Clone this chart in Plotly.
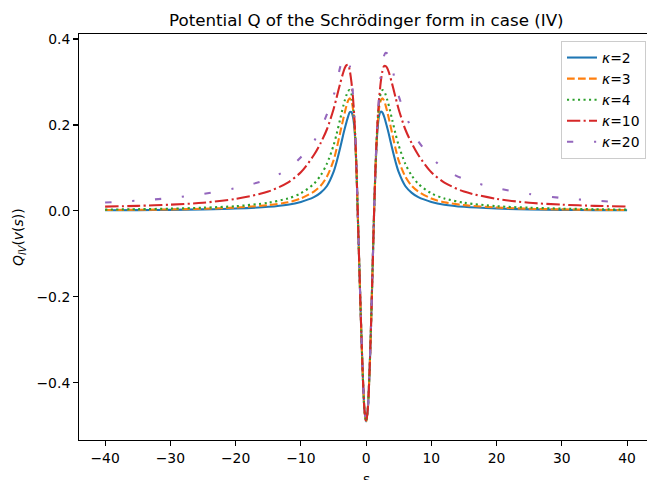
import plotly.graph_objects as go

# ---- data ----
S = [-40, -35, -30, -25, -20, -15, -12, -10, -8, -7, -6, -5, -4.5, -4, -3.5, -3.25, -3, -2.75,
     -2.5, -2.25, -2, -1.75, -1.5, -1.25, -1, -0.75, -0.5, -0.25, 0,
     0.25, 0.5, 0.75, 1, 1.25, 1.5, 1.75, 2, 2.25, 2.5, 2.75, 3, 3.25, 3.5,
     4, 4.5, 5, 6, 7, 8, 10, 12, 15, 20, 25, 30, 35, 40]

Q_K2 = [0.0014, 0.0018, 0.0025, 0.0036, 0.0056, 0.0095, 0.0145, 0.021, 0.032, 0.042, 0.058, 0.090, 0.115, 0.145, 0.178, 0.193, 0.207, 0.220,
        0.230, 0.230, 0.218, 0.185, 0.105, -0.02, -0.15, -0.275, -0.385, -0.463, -0.490,
        -0.463, -0.385, -0.27, -0.13, 0.01, 0.12, 0.19, 0.222, 0.231, 0.229, 0.220, 0.207, 0.193, 0.178,
        0.145, 0.115, 0.090, 0.058, 0.042, 0.032, 0.021, 0.0145, 0.0095, 0.0056, 0.0036, 0.0025, 0.0018, 0.0014]

Q_K3 = [0.002, 0.0026, 0.0035, 0.005, 0.0078, 0.0135, 0.020, 0.029, 0.045, 0.058, 0.080, 0.117, 0.146, 0.180, 0.214, 0.230, 0.245, 0.257,
        0.262, 0.256, 0.236, 0.192, 0.107, -0.02, -0.15, -0.275, -0.385, -0.463, -0.490,
        -0.463, -0.385, -0.27, -0.13, 0.01, 0.122, 0.198, 0.240, 0.257, 0.262, 0.257, 0.245, 0.230, 0.214,
        0.180, 0.146, 0.117, 0.080, 0.058, 0.045, 0.029, 0.020, 0.0135, 0.0078, 0.005, 0.0035, 0.0026, 0.002]

Q_K4 = [0.003, 0.004, 0.0053, 0.0075, 0.011, 0.019, 0.029, 0.041, 0.063, 0.082, 0.110, 0.152, 0.180, 0.212, 0.244, 0.258, 0.270, 0.279,
        0.281, 0.272, 0.246, 0.196, 0.108, -0.02, -0.15, -0.275, -0.385, -0.463, -0.490,
        -0.463, -0.385, -0.27, -0.13, 0.01, 0.124, 0.203, 0.250, 0.274, 0.281, 0.279, 0.270, 0.258, 0.244,
        0.212, 0.180, 0.152, 0.110, 0.082, 0.063, 0.041, 0.029, 0.019, 0.011, 0.0075, 0.0053, 0.004, 0.003]

Q_K10 = [0.010, 0.0118, 0.0145, 0.019, 0.028, 0.045, 0.066, 0.090, 0.130, 0.157, 0.190, 0.236, 0.265, 0.295, 0.322, 0.333, 0.339, 0.340,
         0.326, 0.300, 0.262, 0.203, 0.110, -0.02, -0.15, -0.275, -0.385, -0.463, -0.490,
         -0.463, -0.385, -0.27, -0.13, 0.01, 0.126, 0.208, 0.262, 0.300, 0.325, 0.337, 0.337, 0.332, 0.322,
         0.295, 0.265, 0.236, 0.190, 0.157, 0.130, 0.090, 0.066, 0.045, 0.028, 0.019, 0.0145, 0.0118, 0.010]

Q_K20 = [0.0195, 0.024, 0.030, 0.0395, 0.053, 0.074, 0.097, 0.125, 0.162, 0.190, 0.225, 0.267, 0.297, 0.333, 0.356, 0.358, 0.356, 0.352,
         0.338, 0.312, 0.268, 0.205, 0.111, -0.02, -0.15, -0.275, -0.385, -0.463, -0.490,
         -0.463, -0.385, -0.27, -0.13, 0.01, 0.127, 0.210, 0.270, 0.315, 0.345, 0.361, 0.368, 0.366, 0.359,
         0.333, 0.297, 0.267, 0.225, 0.190, 0.162, 0.125, 0.097, 0.074, 0.053, 0.0395, 0.030, 0.024, 0.0195]

SERIES_NAMES = ["<i>κ</i>=2", "<i>κ</i>=3", "<i>κ</i>=4", "<i>κ</i>=10", "<i>κ</i>=20"]
SERIES_VALUES = [Q_K2, Q_K3, Q_K4, Q_K10, Q_K20]

X_TICKS = [-40, -30, -20, -10, 0, 10, 20, 30, 40]
X_TICK_TEXT = ["−40", "−30", "−20", "−10", "0", "10", "20", "30", "40"]
Y_TICKS = [-0.4, -0.2, 0.0, 0.2, 0.4]
Y_TICK_TEXT = ["−0.4", "−0.2", "0.0", "0.2", "0.4"]

TITLE = "Potential Q of the Schrödinger form in case (IV)"
XLABEL = "s"
YLABEL = "<i>Q</i><sub><i>IV</i></sub>(<i>v</i>(<i>s</i>))"

# ---- styles ----
COLORS = ["#1f77b4", "#ff7f0e", "#2ca02c", "#d62728", "#9467bd"]
DASHES = ["solid", "7.7px,3.3px", "2.1px,3.4px", "13.3px,3.3px,2.1px,3.3px", "6.25px,20.8px,2.1px,20.8px"]
FONT = "DejaVu Sans"

fig = go.Figure()
for name, vals, col, dash in zip(SERIES_NAMES, SERIES_VALUES, COLORS, DASHES):
    fig.add_trace(go.Scatter(
        x=S, y=vals, mode="lines", name=name,
        line=dict(color=col, width=2.08, dash=dash, shape="spline", smoothing=0.8),
    ))

W, H = 647, 480
ML, MR, MT, MB = 79, 0, 34, 40
PX_PER_UNIT = 6.525
x0 = -44
x1 = x0 + (W - ML - MR) / PX_PER_UNIT

fig.update_layout(
    width=W, height=H,
    margin=dict(l=ML, r=MR, t=MT, b=MB, pad=0),
    paper_bgcolor="white", plot_bgcolor="white",
    font=dict(family=FONT, size=13.9, color="black"),
    showlegend=True,
    legend=dict(
        x=(646 - ML) / (W - ML - MR), y=(H - MB - 41) / (H - MT - MB),
        xanchor="right", yanchor="top",
        bgcolor="rgba(255,255,255,0.8)", bordercolor="#cccccc", borderwidth=1,
        font=dict(family=FONT, size=13.9, color="black"),
    ),
    xaxis=dict(
        range=[x0, x1], tickvals=X_TICKS, ticktext=X_TICK_TEXT,
        showgrid=False, zeroline=False,
        showline=True, linecolor="black", linewidth=1.1, mirror=True,
        ticks="outside", ticklen=4.9, tickwidth=1.1, tickcolor="black",
        tickfont=dict(family=FONT, size=13.9, color="black"),
    ),
    yaxis=dict(
        range=[-0.533, 0.4116], tickvals=Y_TICKS, ticktext=Y_TICK_TEXT,
        showgrid=False, zeroline=False,
        showline=True, linecolor="black", linewidth=1.1, mirror=False,
        ticks="outside", ticklen=4.9, tickwidth=1.1, tickcolor="black",
        tickfont=dict(family=FONT, size=13.9, color="black"),
    ),
)

plot_h = H - MT - MB
plot_w = W - ML - MR
fig.add_annotation(
    text=TITLE, xref="x", yref="paper", x=0, y=(H - MB - 20) / plot_h,
    xanchor="center", yanchor="middle", showarrow=False,
    font=dict(family=FONT, size=16.7, color="black"),
)
fig.add_annotation(
    text=XLABEL, xref="x", yref="paper", x=0, y=-(469 - (H - MB)) / plot_h,
    xanchor="center", yanchor="top", showarrow=False,
    font=dict(family=FONT, size=13.9, color="black"),
)
fig.add_annotation(
    text=YLABEL, xref="paper", yref="paper", x=(19 - ML) / plot_w, y=0.5,
    xanchor="center", yanchor="middle", textangle=-90, showarrow=False,
    font=dict(family=FONT, size=13.9, color="black"),
)

fig.write_html(
    "out.html",
    config={"displayModeBar": False, "staticPlot": True},
    post_script="document.body.style.margin='0';document.body.style.overflow='hidden';",
)
